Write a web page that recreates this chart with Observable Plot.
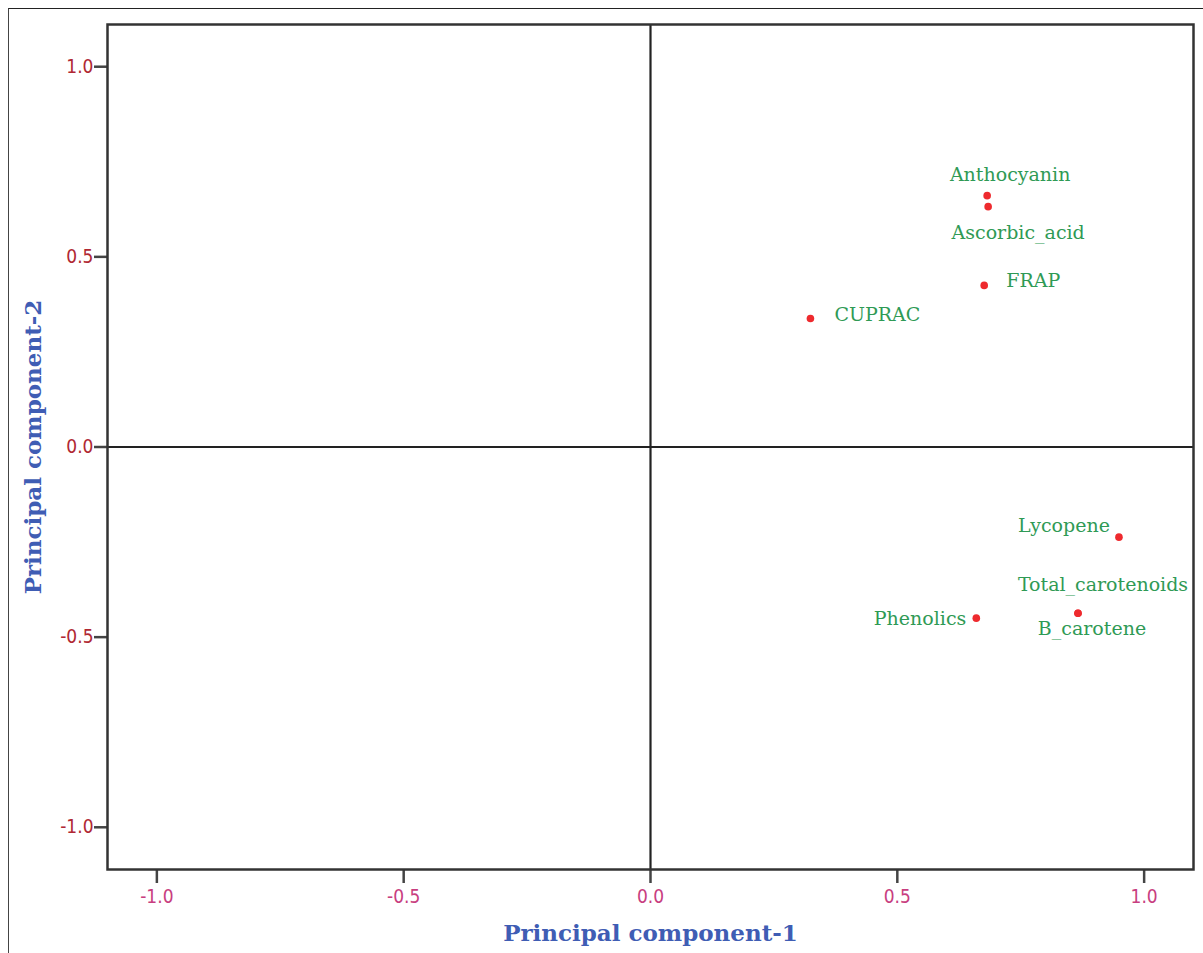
<!DOCTYPE html>
<html>
<head>
<meta charset="utf-8">
<script src="https://cdn.jsdelivr.net/npm/d3@7"></script>
<script src="https://cdn.jsdelivr.net/npm/@observablehq/plot@0.6"></script>
<style>
  html, body { margin: 0; padding: 0; background: #fff; }
  #wrap { position: relative; width: 1203px; height: 953px; overflow: hidden; }
  #border { position: absolute; left: 8px; top: 8px; width: 1300px; height: 1000px;
            border-left: 1.5px solid #444; border-top: 1.5px solid #222; box-sizing: border-box; }
  #chart { position: absolute; left: 0; top: 0; }
</style>
</head>
<body>
<div id="wrap"><div id="border"></div><div id="chart"></div></div>
<script>
// Component loadings
const variables = ["Anthocyanin", "Ascorbic_acid", "FRAP", "CUPRAC", "Lycopene", "Total_carotenoids", "B_carotene", "Phenolics"];
const pc1 = [0.682, 0.684, 0.676, 0.324, 0.949, 0.866, 0.866, 0.660];
const pc2 = [0.661, 0.632, 0.425, 0.338, -0.237, -0.437, -0.437, -0.450];
const tickValues = [-1.0, -0.5, 0.0, 0.5, 1.0];
const xTitle = "Principal component-1";
const yTitle = "Principal component-2";

const data = variables.map((name, i) => ({name, x: pc1[i], y: pc2[i]}));
const fmt = d => d.toFixed(1);

// label placement relative to each point (layout only)
const labelPlace = {
  Anthocyanin:       {anchor: "middle", dx: 23,  dy: -21},
  Ascorbic_acid:     {anchor: "middle", dx: 30,  dy: 26},
  FRAP:              {anchor: "start",  dx: 22,  dy: -4},
  CUPRAC:            {anchor: "start",  dx: 24,  dy: -4},
  Lycopene:          {anchor: "end",    dx: -9,  dy: -11},
  Total_carotenoids: {anchor: "middle", dx: 25,  dy: -28},
  B_carotene:        {anchor: "middle", dx: 14,  dy: 16},
  Phenolics:         {anchor: "end",    dx: -10, dy: 1}
};

const labelFont = "DejaVu Serif";
const labelMarks = data.map(d => {
  const p = labelPlace[d.name];
  return Plot.text([d], {x: "x", y: "y", text: "name", textAnchor: p.anchor, dx: p.dx, dy: p.dy,
    fill: "#2f9a55", fontSize: 19, fontFamily: labelFont});
});

const chart = Plot.plot({
  width: 1203,
  height: 953,
  marginLeft: 107,
  marginRight: 10,
  marginTop: 24,
  marginBottom: 84,
  style: {background: "transparent", overflow: "visible"},
  x: {domain: [-1.1, 1.1], axis: null},
  y: {domain: [-1.111, 1.111], axis: null},
  marks: [
    Plot.ruleX([0], {stroke: "#222", strokeWidth: 2.2}),
    Plot.ruleY([0], {stroke: "#222", strokeWidth: 2.2}),
    Plot.axisX(tickValues, {tickSize: 14, tickPadding: 6, stroke: "#444", strokeWidth: 2.5,
      fill: "#c83e80", fontSize: 19, fontFamily: "DejaVu Sans Condensed", tickFormat: fmt,
      label: null}),
    Plot.axisY(tickValues, {tickSize: 13, tickPadding: 1, stroke: "#444", strokeWidth: 2.5,
      fill: "#b02833", fontSize: 19, fontFamily: "DejaVu Sans Condensed", tickFormat: fmt,
      label: null}),
    Plot.frame({stroke: "#333", strokeWidth: 2.5}),
    Plot.dot(data, {x: "x", y: "y", r: 3.8, fill: "#ee2a2e", stroke: "none"}),
    ...labelMarks,
    Plot.text([xTitle], {frameAnchor: "bottom", textAnchor: "middle", dy: 71, fill: "#3f5db4", fontSize: 23,
      fontWeight: "bold", fontFamily: "DejaVu Serif"}),
    Plot.text([yTitle], {frameAnchor: "left", textAnchor: "middle", dx: -74, rotate: -90, fill: "#3f5db4", fontSize: 23,
      fontWeight: "bold", fontFamily: "DejaVu Serif"})
  ]
});
document.getElementById("chart").appendChild(chart);
</script>
</body>
</html>
